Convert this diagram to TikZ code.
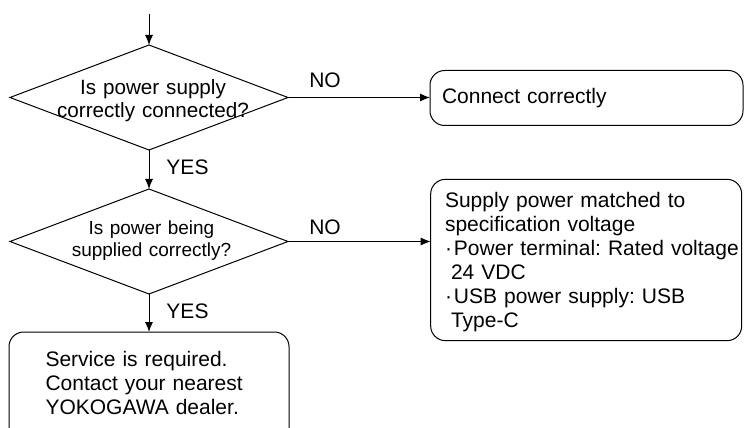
\documentclass[tikz,border=0pt]{standalone}
\usepackage{fontspec}
\setmainfont{Liberation Sans}
\usetikzlibrary{shapes.geometric,arrows.meta}
\frenchspacing
\newcommand{\itemdot}{·\kern1.5pt}
\begin{document}
\begin{tikzpicture}[
  x=0.75pt, y=-0.75pt,
  every node/.style={inner sep=0pt, outer sep=0pt},
  decision/.style={diamond, draw, line width=0.75pt,
    minimum width=208.5pt, minimum height=78.75pt},
  stepbox/.style={rectangle, draw, line width=0.75pt, rounded corners=11pt},
  flow/.style={draw, line width=0.75pt, -{Latex[length=7.5pt,width=6pt]}},
  body/.style={font=\fontsize{15.75}{18}\selectfont},
  qtext/.style={anchor=base, text width=260pt, align=center},
  btext/.style={body, anchor=base west, text width=300pt, align=left},
]
\useasboundingbox (0,0) rectangle (744,428);
\clip (0,0) rectangle (744,428);

% decisions
\node[decision] (d1) at (149,97.5) {};
\node[decision] (d2) at (149,241.5) {};
\node[qtext, font=\fontsize{15.5}{17.25}\selectfont] (q1) at (153,95)
  {Is power supply\\correctly connected?};
\node[qtext, font=\fontsize{14.25}{16.8}\selectfont] (q2) at (151.5,234.3)
  {Is power being\\supplied correctly?};

% actions
\node[stepbox, minimum width=234.75pt, minimum height=41.25pt] (b1) at (586.5,98) {};
\node[stepbox, minimum width=233.25pt, minimum height=121pt] (b2) at (586.2,260) {};
\node[stepbox, minimum width=210pt, minimum height=105pt] (b3) at (149,402) {};

\node[btext] (a1) at (442,104) {Connect correctly};
\node[btext] (a2) at (445,207.3)
  {Supply power matched to\\specification voltage\\\itemdot Power terminal: Rated voltage\\\hspace*{4.5pt}24 VDC\\\itemdot USB power supply: USB\\\hspace*{4.5pt}Type-C};
\node[btext] (a3) at (45.5,366.7)
  {Service is required.\\Contact your nearest\\YOKOGAWA dealer.};

% connectors
\coordinate (entry) at (149,14);
\draw[flow] (entry) -- (d1.north);
\draw[flow] (d1.south) -- (d2.north);
\draw[flow] (d2.south) -- (b3.north);
\draw[flow] (d1.east) -- (d1.east -| b1.west);
\draw[flow] (d2.east) -- (d2.east -| b2.west);

% branch labels
\node[body, anchor=base] (yes1) at (187.5,175) {YES};
\node[body, anchor=base] (yes2) at (187.5,319) {YES};
\node[body, anchor=base] (no1) at (325,88) {NO};
\node[body, anchor=base] (no2) at (325,235) {NO};
\end{tikzpicture}
\end{document}
